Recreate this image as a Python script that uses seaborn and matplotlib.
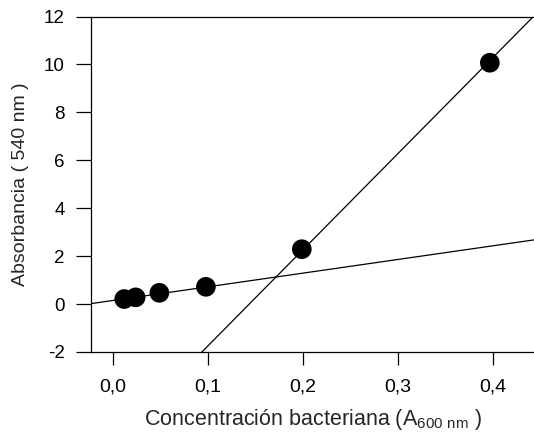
import numpy as np
import pandas as pd
import matplotlib
matplotlib.use("Agg")
import matplotlib.pyplot as plt
import seaborn as sns

# puntos medidos
conc = [0.012, 0.024, 0.049, 0.098, 0.199, 0.397]
absorb = [0.21, 0.28, 0.47, 0.72, 2.29, 10.07]

# rectas de ajuste (pendiente, ordenada)
fit_low = (5.7, 0.15)
fit_high = (40.1, -5.76)

x_ticks = [0.0, 0.1, 0.2, 0.3, 0.4]
x_labels = ["0,0", "0,1", "0,2", "0,3", "0,4"]
y_ticks = [-2, 0, 2, 4, 6, 8, 10, 12]
y_labels = ["-2", "0", "2", "4", "6", "8", "10", "12"]

sns.set_theme(style="ticks")
plt.rcParams["font.family"] = ["Liberation Sans", "DejaVu Sans"]
plt.rcParams["mathtext.default"] = "regular"

fig = plt.figure(figsize=(5.34, 4.32), dpi=100)
ax = fig.add_axes([91 / 534, 1 - 352 / 432, 1 - 91 / 534, (352 - 16.5) / 432])

xlim = (-0.023, 0.4435)
ylim = (-2, 12)

xs = np.linspace(xlim[0], xlim[1], 50)
lines = pd.DataFrame({
    "x": np.concatenate([xs, xs]),
    "y": np.concatenate([fit_low[0] * xs + fit_low[1], fit_high[0] * xs + fit_high[1]]),
    "recta": ["baja"] * len(xs) + ["alta"] * len(xs),
})
sns.lineplot(data=lines, x="x", y="y", units="recta", estimator=None,
             color="black", linewidth=0.9, ax=ax, zorder=2)

pts = pd.DataFrame({"conc": conc, "abs": absorb})
sns.scatterplot(data=pts, x="conc", y="abs", s=200, color="black",
                edgecolor="none", ax=ax, zorder=3)

ax.set_xlim(xlim)
ax.set_ylim(ylim)
ax.set_xticks(x_ticks)
ax.set_xticklabels(x_labels)
ax.set_yticks(y_ticks)
ax.set_yticklabels(y_labels)

for side in ["left", "bottom", "top"]:
    ax.spines[side].set_linewidth(0.9)
    ax.spines[side].set_color("black")
ax.spines["right"].set_visible(False)

ax.tick_params(axis="y", length=11, width=0.9, pad=8, labelsize=13.5, colors="black")
ax.tick_params(axis="x", length=9.5, width=0.9, pad=9.5, labelsize=14, colors="black")

ax.set_xlabel(r"Concentración bacteriana (A$_{600\ nm}$ )", fontsize=15.5)
ax.set_ylabel("Absorbancia ( 540 nm )", fontsize=14)
ax.yaxis.set_label_coords(-0.14, 0.5)
ax.xaxis.set_label_coords(0.5, -0.165)

fig.savefig("out.png", dpi=100)
